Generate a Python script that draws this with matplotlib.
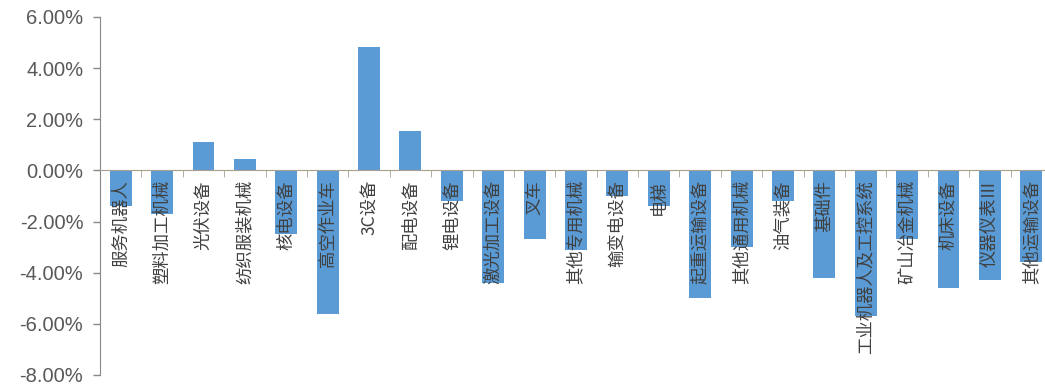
import matplotlib.pyplot as plt
from matplotlib.ticker import FixedLocator, FuncFormatter
import numpy as np

# sub-industry names and their weekly change (%)
categories = ["服务机器人", "塑料加工机械", "光伏设备", "纺织服装机械", "核电设备",
              "高空作业车", "3C设备", "配电设备", "锂电设备", "激光加工设备",
              "叉车", "其他专用机械", "输变电设备", "电梯", "起重运输设备",
              "其他通用机械", "油气装备", "基础件", "工业机器人及工控系统",
              "矿山冶金机械", "机床设备", "仪器仪表Ⅲ", "其他运输设备"]
changes = [-1.4, -1.7, 1.1, 0.43, -2.5,
           -5.6, 4.82, 1.53, -1.2, -4.4,
           -2.67, -3.1, -1.0, -1.4, -5.0,
           -3.0, -1.2, -4.2, -5.7,
           -2.7, -4.6, -4.3, -3.6]
yticks = [6, 4, 2, 0, -2, -4, -6, -8]

fig = plt.figure(figsize=(10.45, 3.85), dpi=100)
ax = fig.add_axes([0.0957, 0.026, 0.911, 0.93])

x = np.arange(len(categories))
ax.bar(x, changes, width=0.53, color='#5B9BD5', zorder=1)

ax.set_xlim(-0.5, len(categories) - 0.5)
ax.set_ylim(-8, 6)

# y axis
ax.set_yticks(yticks)
ax.yaxis.set_major_formatter(FuncFormatter(lambda v, p: f"{v:.2f}%"))
ax.tick_params(axis='y', labelsize=14.5, labelcolor='#595959', color='#888888',
               length=5, width=1, pad=7)
for lab in ax.get_yticklabels():
    lab.set_family('Liberation Sans')

# x axis sits on zero, ticks between categories
ax.spines['bottom'].set_position(('data', 0))
ax.spines['bottom'].set_color('#A89F91')
ax.spines['left'].set_color('#888888')
ax.spines['top'].set_visible(False)
ax.spines['right'].set_visible(False)

ax.set_xticks(x)
ax.set_xticklabels(categories, rotation=90, fontsize=12.5, color='#404040',
                   family=['Noto Sans CJK SC', 'DejaVu Sans'], va='top', ha='center')
ax.tick_params(axis='x', which='major', length=0, pad=7)
ax.xaxis.set_minor_locator(FixedLocator(x[:-1] + 0.5))
ax.tick_params(axis='x', which='minor', length=5, color='#A89F91', direction='out')

plt.savefig('out.png', dpi=100)
